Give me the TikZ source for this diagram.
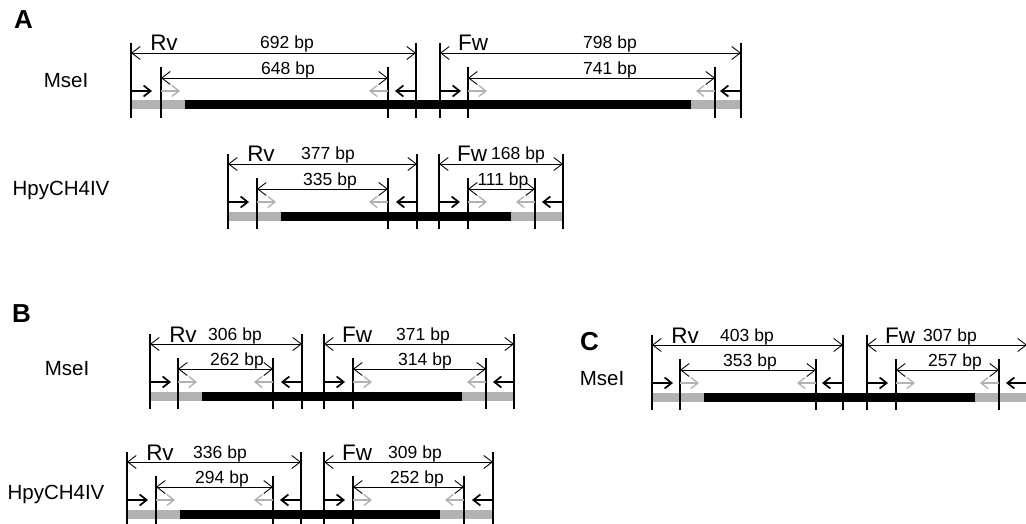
\documentclass[tikz,border=0pt]{standalone}
\usepackage{fontspec}
\setmainfont{Liberation Sans}
\usetikzlibrary{arrows.meta}
\tikzset{
 vline/.style={line width=1.1pt, black},
 dimline/.style={line width=0.9pt, {Straight Barb[length=8.5pt,width=13pt]}-{Straight Barb[length=8.5pt,width=13pt]}},
 pblack/.style={line width=1.7pt, black, -{Straight Barb[length=7pt,width=11pt]}},
 pgrey/.style={line width=1.4pt, gray!60, -{Straight Barb[length=7pt,width=11pt]}},
 bplab/.style={font=\fontsize{17.5}{19}\selectfont, inner sep=0pt, anchor=base},
 prim/.style={font=\fontsize{22.5}{24}\selectfont, inner sep=0pt, anchor=base},
 enz/.style={font=\fontsize{20.5}{22}\selectfont, inner sep=0pt, anchor=base},
 panel/.style={font=\bfseries\fontsize{26}{28}\selectfont, inner sep=0pt, anchor=base west},
 greyseg/.style={fill=gray!60},
 blackseg/.style={fill=black},
}
% #1 prefix, #2 Y, #3..#6 x1..x4, #7 primer name
\newcommand\halfunit[7]{%
 \coordinate (#1-t1) at (#3,#2-10); \coordinate (#1-b1) at (#3,#2+65);
 \coordinate (#1-t2) at (#4,#2+14); \coordinate (#1-b2) at (#4,#2+65);
 \coordinate (#1-t3) at (#5,#2+14); \coordinate (#1-b3) at (#5,#2+65);
 \coordinate (#1-t4) at (#6,#2-10); \coordinate (#1-b4) at (#6,#2+65);
 \draw[vline] (#1-t1) -- (#1-b1);
 \draw[vline] (#1-t2) -- (#1-b2);
 \draw[vline] (#1-t3) -- (#1-b3);
 \draw[vline] (#1-t4) -- (#1-b4);
 \coordinate (#1-o1) at (#3,#2); \coordinate (#1-o4) at (#6,#2);
 \draw[dimline] (#1-o1) -- (#1-o4);
 \coordinate (#1-i2) at (#4,#2+25); \coordinate (#1-i3) at (#5,#2+25);
 \draw[dimline] (#1-i2) -- (#1-i3);
 \coordinate (#1-p1) at (#3,#2+38); \coordinate (#1-p1e) at (#3+21,#2+38);
 \coordinate (#1-p2) at (#4,#2+38); \coordinate (#1-p2e) at (#4+19,#2+38);
 \coordinate (#1-p3) at (#5,#2+38); \coordinate (#1-p3e) at (#5-19,#2+38);
 \coordinate (#1-p4) at (#6,#2+38); \coordinate (#1-p4e) at (#6-21,#2+38);
 \draw[pblack] (#1-p1) -- (#1-p1e);
 \draw[pgrey] (#1-p2) -- (#1-p2e);
 \draw[pgrey] (#1-p3) -- (#1-p3e);
 \draw[pblack] (#1-p4) -- (#1-p4e);
 \node[prim] (#1-name) at (#3+33,#2-2) {#7};
}
% #1 prefix, #2 Y, #3 start, #4 x2 (left), #5 x3 (right), #6 end
\newcommand\dnabar[6]{%
 \coordinate (#1-s) at (#3,#2+47.5);
 \coordinate (#1-g1) at (#4+24,#2+56.5);
 \coordinate (#1-g1t) at (#4+24,#2+47.5);
 \coordinate (#1-g2) at (#5-24,#2+56.5);
 \coordinate (#1-g2t) at (#5-24,#2+47.5);
 \coordinate (#1-e) at (#6,#2+56.5);
 \fill[blackseg] (#1-g1t) rectangle (#1-g2);
 \fill[greyseg] (#1-s) rectangle (#1-g1);
 \fill[greyseg] (#1-g2t) rectangle (#1-e);
}
\begin{document}
\begin{tikzpicture}[x=1pt,y=-1pt]
\useasboundingbox (0,0) rectangle (1026,524);
\clip (0,0) rectangle (1026,524);
% ---- Panel A, MseI
\node[panel] (pa) at (14,29) {A};
\node[enz] (a1e) at (66,88) {MseI};
\dnabar{a1bar}{53}{131}{161}{715}{741}
\halfunit{a1r}{53}{131}{161}{388}{416}{Rv}
\halfunit{a1f}{53}{440}{468}{715}{741}{Fw}
\node[bplab] (a1ro) at (287,49) {692 bp};
\node[bplab] (a1ri) at (288,74.5) {648 bp};
\node[bplab] (a1fo) at (610,49) {798 bp};
\node[bplab] (a1fi) at (610,74.5) {741 bp};
% ---- Panel A, HpyCH4IV
\node[enz] (a2e) at (61,196) {HpyCH4IV};
\dnabar{a2bar}{164}{228}{257}{535}{563}
\halfunit{a2r}{164}{228}{257}{388}{417}{Rv}
\halfunit{a2f}{164}{439}{468}{535}{563}{Fw}
\node[bplab] (a2ro) at (328,160) {377 bp};
\node[bplab] (a2ri) at (330,185.5) {335 bp};
\node[bplab] (a2fo) at (518,160) {168 bp};
\node[bplab] (a2fi) at (503,185.5) {111 bp};
% ---- Panel B, MseI
\node[panel] (pb) at (12,322) {B};
\node[enz] (b1e) at (67,375) {MseI};
\dnabar{b1bar}{344}{150}{178}{486}{514}
\halfunit{b1r}{344}{150}{178}{273}{302}{Rv}
\halfunit{b1f}{344}{324}{353}{486}{514}{Fw}
\node[bplab] (b1ro) at (235,340) {306 bp};
\node[bplab] (b1ri) at (237,365.5) {262 bp};
\node[bplab] (b1fo) at (423,340) {371 bp};
\node[bplab] (b1fi) at (425,365.5) {314 bp};
% ---- Panel B, HpyCH4IV
\node[enz] (b2e) at (56,499) {HpyCH4IV};
\dnabar{b2bar}{462}{127}{156}{464}{493}
\halfunit{b2r}{462}{127}{156}{273}{301}{Rv}
\halfunit{b2f}{462}{324}{353}{464}{493}{Fw}
\node[bplab] (b2ro) at (220,458) {336 bp};
\node[bplab] (b2ri) at (222,483.5) {294 bp};
\node[bplab] (b2fo) at (415,458) {309 bp};
\node[bplab] (b2fi) at (417,483.5) {252 bp};
% ---- Panel C, MseI
\node[panel] (pc) at (580,350) {C};
\node[enz] (c1e) at (602,385) {MseI};
\dnabar{c1bar}{345}{652}{680}{999}{1027}
\halfunit{c1r}{345}{652}{680}{816}{843}{Rv}
\halfunit{c1f}{345}{867}{896}{999}{1027}{Fw}
\node[bplab] (c1ro) at (747,341) {403 bp};
\node[bplab] (c1ri) at (750,366.5) {353 bp};
\node[bplab] (c1fo) at (950,341) {307 bp};
\node[bplab] (c1fi) at (955,366.5) {257 bp};
\end{tikzpicture}
\end{document}
